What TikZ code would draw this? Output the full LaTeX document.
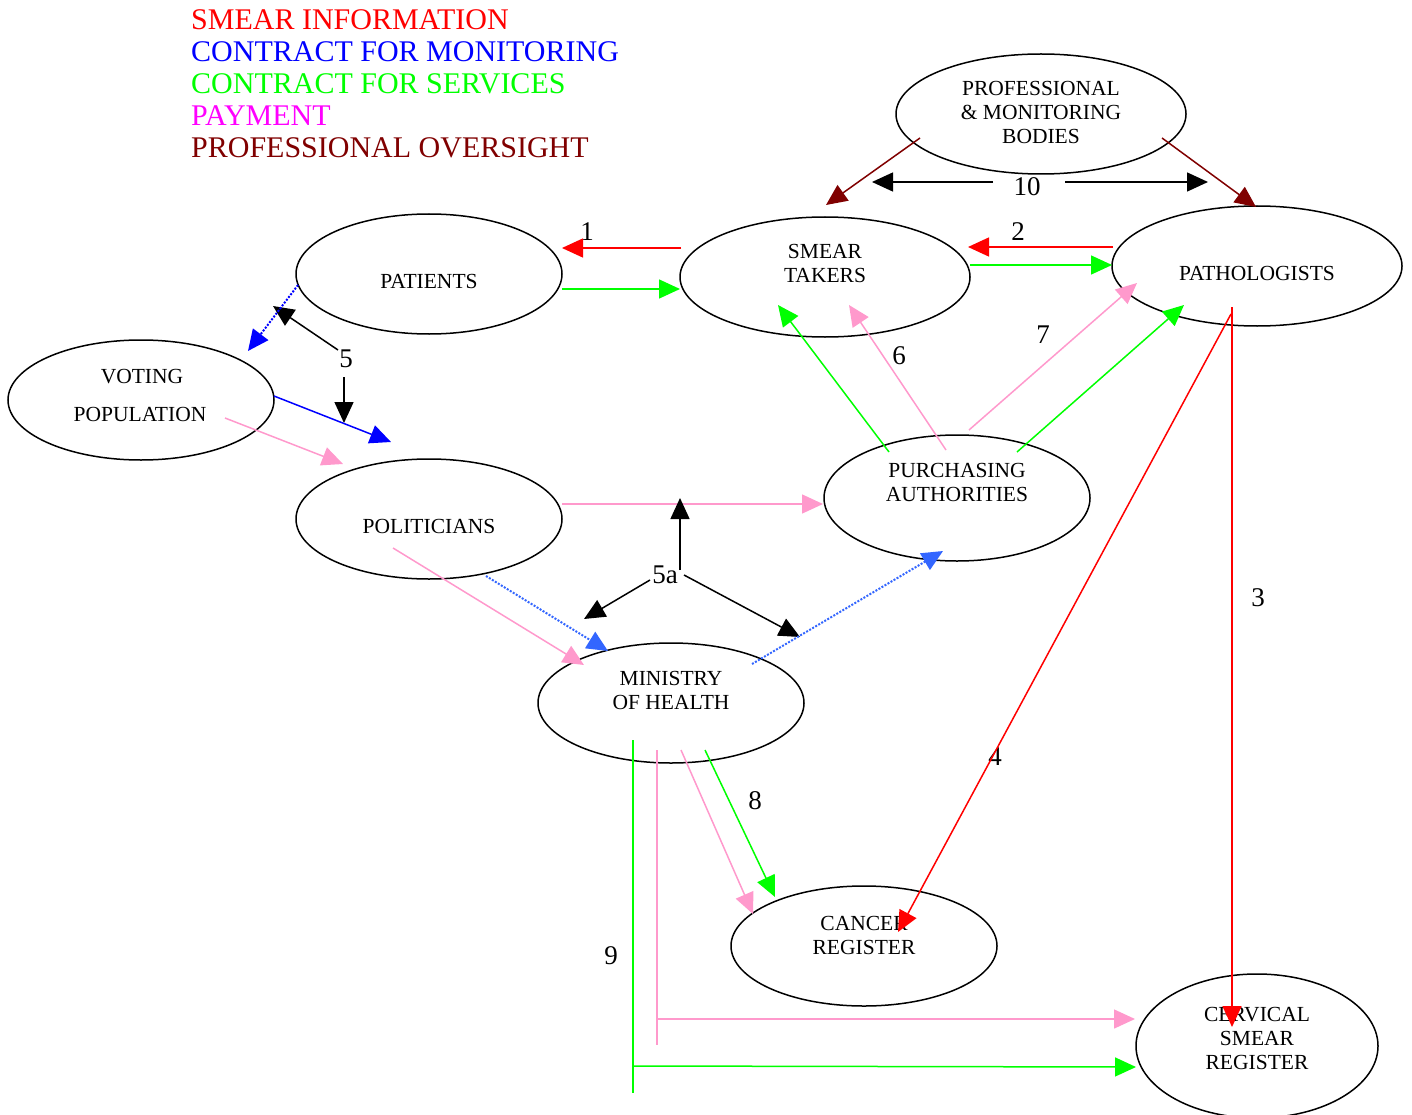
\documentclass[tikz,border=0pt]{standalone}
\usepackage{fontspec}
\setmainfont{Liberation Serif}
\usetikzlibrary{arrows.meta,shapes.geometric}
\definecolor{pinkc}{RGB}{255,153,204}
\definecolor{grn}{RGB}{0,255,0}
\definecolor{blu}{RGB}{0,0,255}
\definecolor{lblu}{RGB}{51,102,255}
\definecolor{mag}{RGB}{255,0,255}
\definecolor{dred}{RGB}{128,0,0}
\begin{document}
\begin{tikzpicture}[x=1pt,y=-1pt,
  ell/.style={draw,ellipse,line width=1.5pt,inner sep=0pt},
  lbl/.style={font=\fontsize{21.5}{24}\selectfont,align=center,inner sep=0pt},
  num/.style={font=\fontsize{27}{28}\selectfont,inner sep=1pt},
  leg/.style={font=\fontsize{30}{30}\selectfont,anchor=west,inner sep=0pt},
  con/.style={line width=1.5pt,-{Triangle[length=21pt,width=19pt]}},
  plain/.style={line width=1.5pt},
  dots/.style={line width=2pt,dash pattern=on 2pt off 1.5pt,-{Triangle[length=21pt,width=19pt]}}]
\useasboundingbox (0,0) rectangle (1412,1115);
% legend
\node[leg,text=red] (l1) at (191,20) {SMEAR INFORMATION};
\node[leg,text=blu] (l2) at (191,52) {CONTRACT FOR MONITORING};
\node[leg,text=grn] (l3) at (191,84) {CONTRACT FOR SERVICES};
\node[leg,text=mag] (l4) at (191,116) {PAYMENT};
\node[leg,text=dred] (l5) at (191,148) {PROFESSIONAL OVERSIGHT};
% ellipses
\node[ell,minimum width=290pt,minimum height=120pt] (pmb) at (1041,114) {};
\node[ell,minimum width=266pt,minimum height=120pt] (pat) at (429,274) {};
\node[ell,minimum width=290pt,minimum height=120pt] (st) at (825,277) {};
\node[ell,minimum width=290pt,minimum height=120pt] (path) at (1257,266) {};
\node[ell,minimum width=266pt,minimum height=120pt] (vp) at (141,400) {};
\node[ell,minimum width=266pt,minimum height=120pt] (pol) at (429,519) {};
\node[ell,minimum width=266pt,minimum height=126pt] (pa) at (957,498) {};
\node[ell,minimum width=266pt,minimum height=120pt] (moh) at (671,703) {};
\node[ell,minimum width=266pt,minimum height=120pt] (cr) at (864,946) {};
\node[ell,minimum width=242pt,minimum height=144pt] (csr) at (1257,1046) {};
% labels
\node[lbl] (tpmb) at (1041,112) {PROFESSIONAL\\\&~MONITORING\\BODIES};
\node[lbl] (tpat) at (429,281) {PATIENTS};
\node[lbl] (tst) at (825,263) {SMEAR\\TAKERS};
\node[lbl] (tpath) at (1257,273) {PATHOLOGISTS};
\node[lbl] (tvp1) at (142,377) {VOTING};
\node[lbl] (tvp2) at (140,414) {POPULATION};
\node[lbl] (tpol) at (429,526) {POLITICIANS};
\node[lbl] (tpa) at (957,482) {PURCHASING\\AUTHORITIES};
\node[lbl] (tmoh) at (671,690) {MINISTRY\\OF HEALTH};
\node[lbl] (tcr) at (864,935) {CANCER\\REGISTER};
\node[lbl] (tcsr) at (1257,1038) {CERVICAL\\SMEAR\\REGISTER};
% numbers
\node[num] (n1) at (587,232) {1};
\node[num] (n2) at (1018,232) {2};
\node[num] (n3) at (1258,598) {3};
\node[num] (n4) at (995,757) {4};
\node[num] (n5) at (346,359) {5};
\node[num] (n5a) at (665,575) {5a};
\node[num] (n6) at (899,356) {6};
\node[num] (n7) at (1043,335) {7};
\node[num] (n8) at (755,801) {8};
\node[num] (n9) at (611,956) {9};
\node[num] (n10) at (1027,187) {10};
% coordinates
\coordinate (a1s) at (681,248); \coordinate (a1e) at (562,248);
\coordinate (g1s) at (562,289); \coordinate (g1e) at (680,289);
\coordinate (a2s) at (1113,247); \coordinate (a2e) at (968,247);
\coordinate (g2s) at (970,265); \coordinate (g2e) at (1112,265);
\coordinate (t10a) at (993,182); \coordinate (t10b) at (872,182);
\coordinate (t10c) at (1065,182); \coordinate (t10d) at (1208,182);
\coordinate (d1s) at (920,138); \coordinate (d1e) at (826,205);
\coordinate (d2s) at (1162,138); \coordinate (d2e) at (1256,207);
\coordinate (r3s) at (1232,307); \coordinate (r3e) at (1232,1027);
\coordinate (r4s) at (1231,314); \coordinate (r4e) at (898,932);
\coordinate (g6s) at (889,452); \coordinate (g6e) at (778,305);
\coordinate (p6s) at (946,450); \coordinate (p6e) at (849,305);
\coordinate (p7s) at (969,430); \coordinate (p7e) at (1137,283);
\coordinate (g7s) at (1017,452); \coordinate (g7e) at (1184,305);
\coordinate (k5s) at (338,350); \coordinate (k5e) at (273,306);
\coordinate (k5bs) at (344,377); \coordinate (k5be) at (344,423);
\coordinate (b5s) at (298,285); \coordinate (b5e) at (248,351);
\coordinate (bvs) at (274,396); \coordinate (bve) at (391,442);
\coordinate (pvs) at (225,418); \coordinate (pve) at (343,464);
\coordinate (ppas) at (562,504); \coordinate (ppae) at (823,504);
\coordinate (k5au) at (680,570); \coordinate (k5aue) at (680,498);
\coordinate (k5ls) at (650,580); \coordinate (k5le) at (584,619);
\coordinate (k5rs) at (684,575); \coordinate (k5re) at (800,637);
\coordinate (lb1s) at (486,576); \coordinate (lb1e) at (608,651);
\coordinate (lb2s) at (752,664); \coordinate (lb2e) at (943,551);
\coordinate (ppms) at (393,548); \coordinate (ppme) at (584,665);
\coordinate (p8s) at (681,750); \coordinate (p8e) at (753,914);
\coordinate (g8s) at (705,750); \coordinate (g8e) at (775,897);
\coordinate (g9t) at (633,740); \coordinate (g9b) at (633,1093);
\coordinate (g9h) at (633,1066); \coordinate (g9e) at (1136,1067);
\coordinate (p9t) at (657,750); \coordinate (p9b) at (657,1045);
\coordinate (p9h) at (657,1019); \coordinate (p9e) at (1135,1019);
% connectors
\draw[con,red] (a1s) -- (a1e);
\draw[con,grn] (g1s) -- (g1e);
\draw[con,red] (a2s) -- (a2e);
\draw[con,grn] (g2s) -- (g2e);
\draw[con,black] (t10a) -- (t10b);
\draw[con,black] (t10c) -- (t10d);
\draw[con,dred] (d1s) -- (d1e);
\draw[con,dred] (d2s) -- (d2e);
\draw[con,red] (r3s) -- (r3e);
\draw[con,red] (r4s) -- (r4e);
\draw[con,grn] (g6s) -- (g6e);
\draw[con,pinkc] (p6s) -- (p6e);
\draw[con,pinkc] (p7s) -- (p7e);
\draw[con,grn] (g7s) -- (g7e);
\draw[con,black] (k5s) -- (k5e);
\draw[con,black] (k5bs) -- (k5be);
\draw[dots,blu] (b5s) -- (b5e);
\draw[con,blu] (bvs) -- (bve);
\draw[con,pinkc] (pvs) -- (pve);
\draw[con,pinkc] (ppas) -- (ppae);
\draw[con,black] (k5au) -- (k5aue);
\draw[con,black] (k5ls) -- (k5le);
\draw[con,black] (k5rs) -- (k5re);
\draw[dots,lblu] (lb1s) -- (lb1e);
\draw[dots,lblu] (lb2s) -- (lb2e);
\draw[con,pinkc] (ppms) -- (ppme);
\draw[con,pinkc] (p8s) -- (p8e);
\draw[con,grn] (g8s) -- (g8e);
\draw[plain,grn] (g9t) -- (g9b);
\draw[con,grn] (g9h) -- (g9e);
\draw[plain,pinkc] (p9t) -- (p9b);
\draw[con,pinkc] (p9h) -- (p9e);
\end{tikzpicture}
\end{document}
